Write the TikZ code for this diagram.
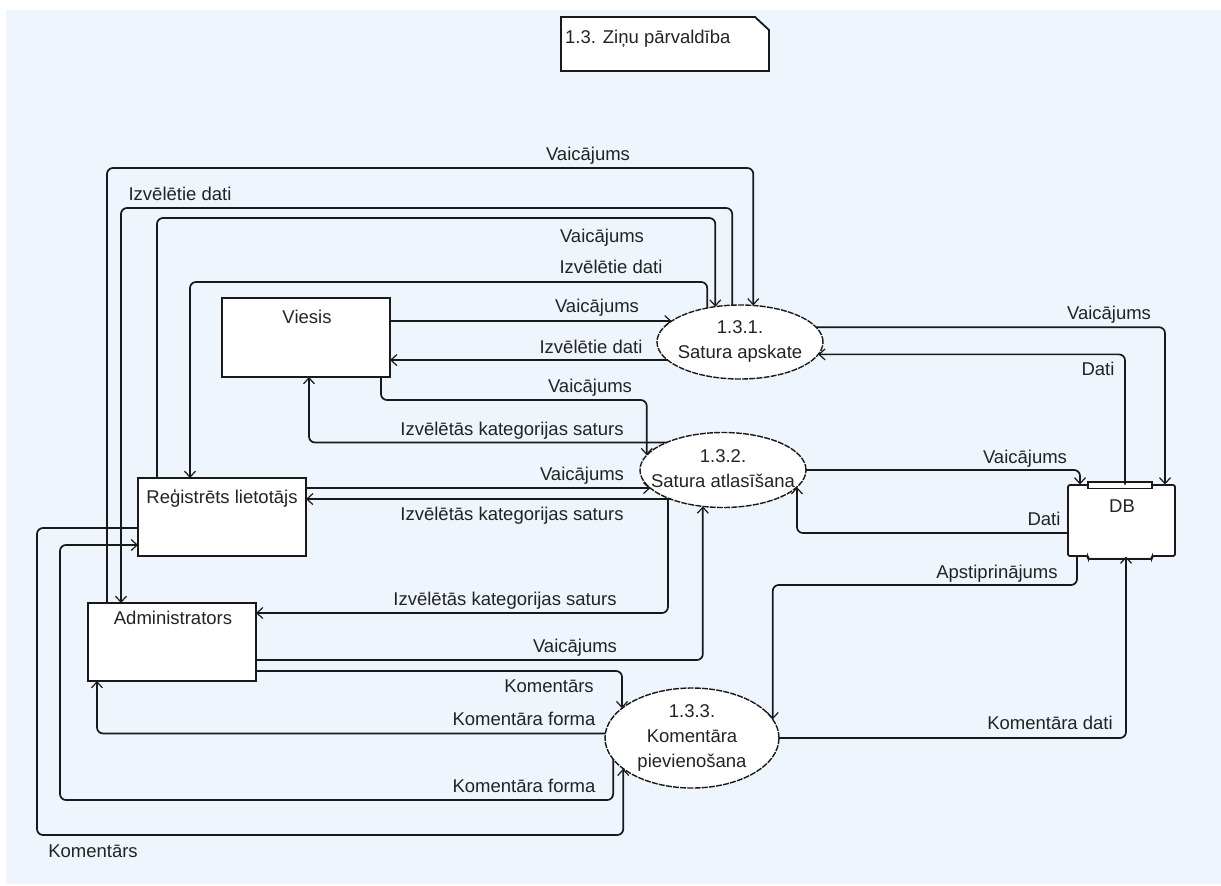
\documentclass[tikz,border=0pt]{standalone}
\usepackage{fontspec}
\setmainfont{Liberation Sans}
\usetikzlibrary{arrows.meta,shapes.geometric}
\definecolor{bgc}{RGB}{238,245,252}
\definecolor{inkc}{RGB}{25,25,25}
\definecolor{txtc}{RGB}{35,35,35}
\begin{document}
\begin{tikzpicture}[x=1pt,y=-1pt,
  every node/.style={font=\fontsize{18.5pt}{25pt}\selectfont, text=txtc},
  box/.style={rectangle, draw=inkc, line width=1.8pt, fill=white, minimum width=168pt, minimum height=78pt, inner sep=0pt, outer sep=0pt},
  proc/.style={ellipse, draw=inkc, line width=1.4pt, dash pattern=on 6pt off 1.2pt, fill=white, inner sep=0pt, outer sep=0pt},
  ptext/.style={align=center, inner sep=0pt},
  lbl/.style={anchor=base, inner sep=0pt},
  flow/.style={draw=inkc, line width=1.7pt, rounded corners=6pt, -{Straight Barb[length=6pt,width=11pt,line width=1.2pt]}},
  dbline/.style={draw=inkc, line width=1.8pt}
]
\useasboundingbox (0,0) rectangle (1221,886);
\fill[white] (0,0) rectangle (1221,886);
\fill[bgc] (6,10) rectangle (1221,884);

% note
\draw[dbline, fill=white] (561,17) -- (755,17) -- (769,30) -- (769,71) -- (561,71) -- cycle;
\node[anchor=base west, inner sep=0pt] (note) at (565,43) {1.3. Ziņu pārvaldība};

% external entities
\node[box, minimum height=79pt] (viesis) at (306,337.5) {};
\node[lbl] (viesisT) at (307,323) {Viesis};
\node[box] (reg) at (222,517) {};
\node[lbl] (regT) at (222,503) {Reģistrēts lietotājs};
\node[box] (adm) at (172,642) {};
\node[lbl] (admT) at (173,624) {Administrators};

% processes
\node[proc, minimum width=166pt, minimum height=74pt] (p1) at (740,342) {};
\node[ptext] (p1T) at (740,341) {1.3.1.\\Satura apskate};
\node[proc, minimum width=166pt, minimum height=75pt] (p2) at (723,470) {};
\node[ptext] (p2T) at (723,469) {1.3.2.\\Satura atlasīšana};
\node[proc, minimum width=174pt, minimum height=100pt] (p3) at (692,738) {};
\node[ptext] (p3T) at (692,738) {1.3.3.\\Komentāra\\pievienošana};

% data store
\node[rectangle, minimum width=107pt, minimum height=72pt, fill=white, inner sep=0pt, outer sep=0pt] (db) at (1121.5,520.5) {};
\draw[dbline, rounded corners=2pt] (1088,485) -- (1068,485) -- (1068,556) -- (1088,556) -- (1088,559) -- (1152,559) -- (1152,556) -- (1175,556) -- (1175,485) -- (1152,485);
\draw[dbline, line width=1.4pt, fill=white] (1088,482) rectangle (1152,488.5);
\node[lbl] (dbT) at (1122,512) {DB};

% flows around 1.3.1
\draw[flow] (adm.north -| 107,0) |- (p1.70 |- 0,168) -- (p1.70);
\draw[flow] (p1.102) |- (121,208) -- (adm.north -| 121,0);
\draw[flow] (reg.north -| 157,0) |- (p1.125 |- 0,218) -- (p1.125);
\draw[flow] (p1.134) |- (190,282) -- (reg.north -| 190,0);
\draw[flow] (viesis.east |- p1.163) -- (p1.163);
\draw[flow] (p1.194) -- (viesis.east |- p1.194);
\draw[flow] (p1.11) -| (db.north -| 1165,0);
\draw[flow] (db.north -| 1125,0) |- (p1.351);

% flows around 1.3.2
\draw[flow] (viesis.south -| 381,0) |- (p2.169 |- 0,400) -- (p2.169);
\draw[flow] (p2.154) -| (viesis.south -| 309,0);
\draw[flow] (reg.east |- p2.194) -- (p2.194);
\draw[flow] (p2.209) -- (reg.east |- p2.209);
\draw[flow] (p2.207) |- (adm.east |- 0,613);
\draw[flow] (adm.east |- 0,660) -| (p2.241);
\draw[flow] (p2.east) -| (db.north -| 1080,0);
\draw[flow] (db.west |- 0,533) -| (p2.347);

% flows around 1.3.3
\draw[flow] (adm.east |- 0,671) -| (p3.157);
\draw[flow] (p3.177) -| (adm.south -| 97,0);
\draw[flow] (p3.195) |- (60,800) |- (reg.west |- 0,545);
\draw[flow] (reg.west |- 0,528) -| (37,835) -| (p3.204);
\draw[flow] (db.south -| 1077,0) |- (p3.13 |- 0,585) -- (p3.13);
\draw[flow] (p3.east) -| (db.south -| 1126,0);

% labels
\node[lbl] (l1) at (588,160) {Vaicājums};
\node[lbl] (l2) at (180,200) {Izvēlētie dati};
\node[lbl] (l3) at (602,242) {Vaicājums};
\node[lbl] (l4) at (611,273) {Izvēlētie dati};
\node[lbl] (l5) at (597,312) {Vaicājums};
\node[lbl] (l6) at (591,353) {Izvēlētie dati};
\node[lbl] (l7) at (590,392) {Vaicājums};
\node[lbl] (l8) at (512,435) {Izvēlētās kategorijas saturs};
\node[lbl] (l9) at (582,480) {Vaicājums};
\node[lbl] (l10) at (512,520) {Izvēlētās kategorijas saturs};
\node[lbl] (l11) at (505,605) {Izvēlētās kategorijas saturs};
\node[lbl] (l12) at (575,652) {Vaicājums};
\node[lbl] (l13) at (549,692) {Komentārs};
\node[lbl] (l14) at (524,725) {Komentāra forma};
\node[lbl] (l15) at (524,792) {Komentāra forma};
\node[lbl] (l16) at (93,857) {Komentārs};
\node[lbl] (l17) at (1109,319) {Vaicājums};
\node[lbl] (l18) at (1098,375) {Dati};
\node[lbl] (l19) at (1025,463) {Vaicājums};
\node[lbl] (l20) at (1044,525) {Dati};
\node[lbl] (l21) at (997,578) {Apstiprinājums};
\node[lbl] (l22) at (1050,729) {Komentāra dati};
\end{tikzpicture}
\end{document}
